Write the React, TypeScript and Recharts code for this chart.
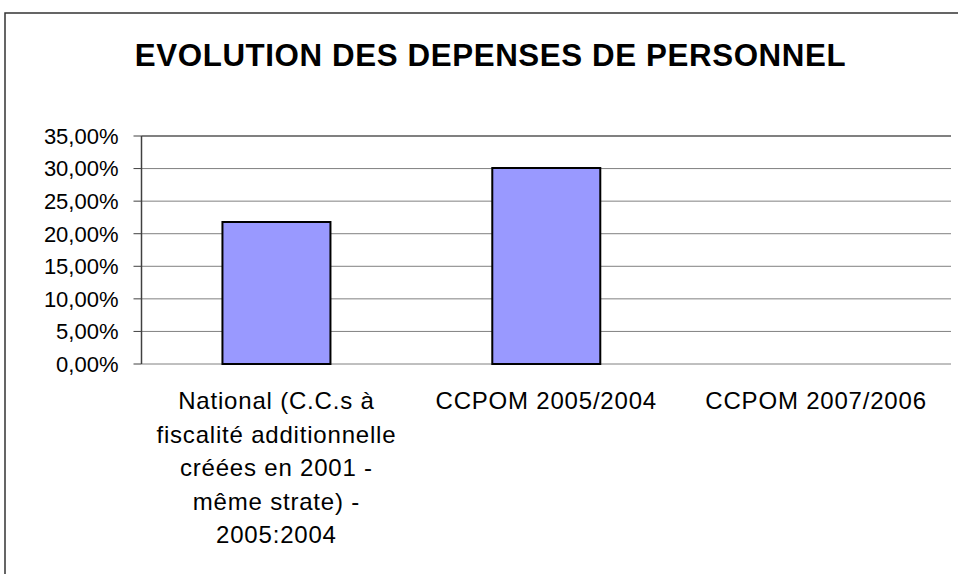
import React from 'react';
import {
  BarChart,
  Bar,
  XAxis,
  YAxis,
  CartesianGrid,
  ReferenceLine,
} from 'recharts';

const categories: string[] = [
  'National (C.C.s à\nfiscalité additionnelle\ncréées en 2001 -\nmême strate) -\n2005:2004',
  'CCPOM 2005/2004',
  'CCPOM 2007/2006',
];
const values: (number | null)[] = [0.218, 0.301, null];
const yTicks: number[] = [0, 0.05, 0.1, 0.15, 0.2, 0.25, 0.3, 0.35];
const yMax = 0.35;

const FONT = '"Liberation Sans", Arial, sans-serif';

const chartData = categories.map((name, i) => ({ name, value: values[i] }));
const edgeTicks = [...categories.map((_, i) => i), categories.length];

const pct = (v: number) => `${(v * 100).toFixed(2).replace('.', ',')}%`;

function CategoryTick({ x, y, payload }: { x?: number; y?: number; payload?: { value: string } }) {
  const lines = String(payload?.value ?? '').split('\n');
  return (
    <text x={x} textAnchor="middle" fontSize={24} letterSpacing={0.8} fill="#000" fontFamily={FONT}>
      {lines.map((line, i) => (
        <tspan key={i} x={x} y={(y ?? 0) + 45 + i * 33.5}>
          {line}
        </tspan>
      ))}
    </text>
  );
}

export default function App() {
  return (
    <div style={{ position: 'fixed', left: 0, top: 0, width: 958, height: 574, background: '#fff', overflow: 'hidden' }}>
      <svg width={958} height={574} style={{ position: 'absolute', left: 0, top: 0 }}>
        <rect x={5} y={13} width={1000} height={600} fill="none" stroke="#333" strokeWidth={1.5} />
        <text
          x={490.5}
          y={66}
          textAnchor="middle"
          fontSize={31.3}
          letterSpacing={0.6}
          fontWeight="bold"
          fontFamily={FONT}
          fill="#000"
        >
          EVOLUTION DES DEPENSES DE PERSONNEL
        </text>
      </svg>
      <div style={{ position: 'absolute', left: 0, top: 0 }}>
        <BarChart
          width={958}
          height={574}
          data={chartData}
          margin={{ top: 136, right: 7, left: 0, bottom: 10 }}
          barCategoryGap="30%"
        >
          <CartesianGrid vertical={false} stroke="#808080" strokeWidth={1} />
          <XAxis
            xAxisId="edges"
            type="number"
            domain={[0, categories.length]}
            ticks={edgeTicks}
            tick={false}
            tickSize={8}
            height={0}
            axisLine={{ stroke: '#333', strokeWidth: 2 }}
            tickLine={{ stroke: '#555', strokeWidth: 1 }}
          />
          <XAxis
            dataKey="name"
            interval={0}
            height={200}
            tickSize={0}
            tickMargin={0}
            axisLine={false}
            tickLine={false}
            tick={<CategoryTick />}
          />
          <YAxis
            domain={[0, yMax]}
            ticks={yTicks}
            width={141.5}
            tickFormatter={pct}
            tickSize={8}
            tickMargin={15}
            interval={0}
            axisLine={{ stroke: '#404040', strokeWidth: 1.5 }}
            tickLine={{ stroke: '#404040', strokeWidth: 1 }}
            tick={{ fill: '#000', fontSize: 22, fontFamily: FONT }}
          />
          <YAxis
            yAxisId="right"
            orientation="right"
            domain={[0, yMax]}
            width={0}
            tick={false}
            tickLine={false}
            axisLine={{ stroke: '#808080', strokeWidth: 2 }}
          />
          <ReferenceLine y={yMax} stroke="#808080" strokeWidth={2} />
          <Bar dataKey="value" fill="#9999FF" stroke="#000" strokeWidth={2} isAnimationActive={false} />
        </BarChart>
      </div>
    </div>
  );
}
